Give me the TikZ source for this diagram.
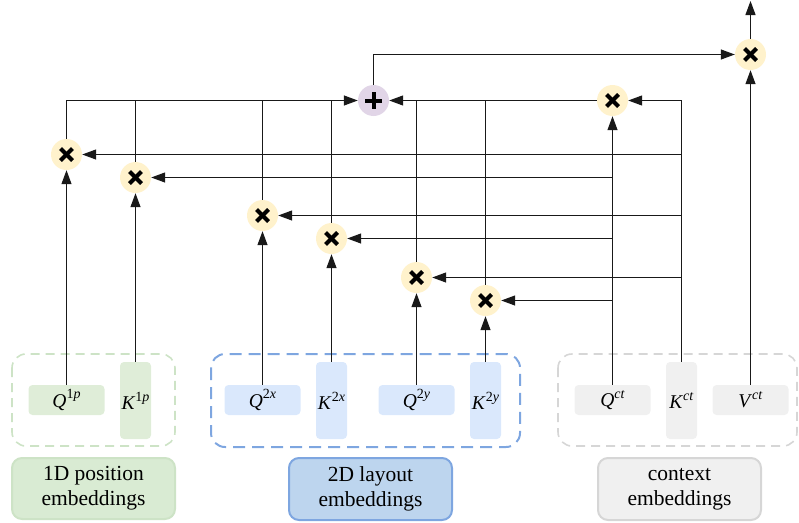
\documentclass[tikz,border=0pt]{standalone}
\usepackage{fontspec}
\setmainfont{Liberation Serif}
\usetikzlibrary{arrows.meta}
\definecolor{grnfill}{HTML}{DFEDD8}
\definecolor{grnlab}{HTML}{D9EBD3}
\definecolor{grnline}{HTML}{CDE3C6}
\definecolor{bluefill}{HTML}{DAE8FC}
\definecolor{bluelab}{HTML}{BDD5EE}
\definecolor{blueline}{HTML}{7EA6E0}
\definecolor{grayfill}{HTML}{F0F0F0}
\definecolor{grayline}{HTML}{D6D6D6}
\definecolor{mulfill}{HTML}{FFF2CC}
\definecolor{addfill}{HTML}{E1D5E7}
\newcommand{\emblab}[2]{\fontsize{19.5}{22}\selectfont\textit{#1}\raisebox{0.42em}{\fontsize{14}{15}\selectfont #2}}
\tikzset{
  wire/.style={line width=1.2pt, black!90},
  arr/.style={wire, -{Triangle[length=14pt,width=10pt]}},
  mul/.style={circle, fill=mulfill, minimum size=31pt, inner sep=0pt},
  add/.style={circle, fill=addfill, minimum size=31pt, inner sep=0pt},
  xmark/.style={line width=4pt, black},
  emb/.style={rectangle, rounded corners=4pt, inner sep=0pt},
  hbox/.style={emb, minimum width=76pt, minimum height=30pt},
  vbox/.style={emb, minimum width=31pt, minimum height=77pt},
  grp/.style={rounded corners=14pt, dash pattern=on 9pt off 6pt, line width=1.6pt},
  lab/.style={rectangle, rounded corners=10pt, line width=2pt, align=center,
    font=\fontsize{21.5}{25}\selectfont, inner sep=0pt},
}
\begin{document}
\begin{tikzpicture}[x=1pt,y=-1pt]
\useasboundingbox (0,0) rectangle (799,522);
% groups
\draw[grp, draw=grnline] (12,354) rectangle (175,446);
\draw[grp, draw=blueline, line width=2pt, dash pattern=on 12pt off 7pt] (211,354) rectangle (520,447);
\draw[grp, draw=grayline] (558,354) rectangle (797,446);
% embeddings
\node[hbox, fill=grnfill] (Q1p) at (66.5,400) {\emblab{Q}{1\textit{p}}};
\node[vbox, fill=grnfill] (K1p) at (135.5,400.5) {\emblab{K}{1\textit{p}}};
\node[hbox, fill=bluefill] (Q2x) at (262.5,400) {\emblab{Q}{2\textit{x}}};
\node[vbox, fill=bluefill] (K2x) at (331.5,400.5) {\emblab{K}{2\textit{x}}};
\node[hbox, fill=bluefill] (Q2y) at (416.5,400) {\emblab{Q}{2\textit{y}}};
\node[vbox, fill=bluefill] (K2y) at (485.5,400.5) {\emblab{K}{2\textit{y}}};
\node[hbox, fill=grayfill] (Qct) at (612.5,400) {\emblab{Q}{\textit{ct}}};
\node[vbox, fill=grayfill] (Kct) at (681.5,400.5) {\emblab{K}{\textit{ct}}};
\node[hbox, fill=grayfill] (Vct) at (750.5,400) {\emblab{V}{\textit{ct}}};
% labels
\node[lab, fill=grnlab, draw=grnline, minimum width=163pt, minimum height=61pt] (L1) at (93.5,488.5) {1D position\\embeddings};
\node[lab, fill=bluelab, draw=blueline, minimum width=163pt, minimum height=62pt] (L2) at (370.5,489) {2D layout\\embeddings};
\node[lab, fill=grayfill, draw=grayline, minimum width=163pt, minimum height=62pt] (L3) at (679.5,489) {context\\embeddings};
% operators
\node[mul] (M1) at (66.5,154.5) {};
\node[mul] (M2) at (135.5,177.5) {};
\node[mul] (M3) at (262.5,215.5) {};
\node[mul] (M4) at (331.5,238.5) {};
\node[mul] (M5) at (416.5,277.5) {};
\node[mul] (M6) at (485.5,300.5) {};
\node[mul] (Mct) at (612.5,100.5) {};
\node[mul] (Mout) at (750.5,54.5) {};
\node[add] (P) at (373.5,100.5) {};
\coordinate (out) at (750.5,1);
\foreach \n in {M1,M2,M3,M4,M5,M6,Mct,Mout}{
  \draw[xmark] ([shift={(-6,-6)}]\n.center) -- ([shift={(6,6)}]\n.center);
  \draw[xmark] ([shift={(-6,6)}]\n.center) -- ([shift={(6,-6)}]\n.center);
}
\draw[xmark] ([shift={(-8.5,0)}]P.center) -- ([shift={(8.5,0)}]P.center);
\draw[xmark] ([shift={(0,-8.5)}]P.center) -- ([shift={(0,8.5)}]P.center);
% inputs up
\draw[arr] (Q1p.north) -- (M1);
\draw[arr] (K1p.north) -- (M2);
\draw[arr] (Q2x.north) -- (M3);
\draw[arr] (K2x.north) -- (M4);
\draw[arr] (Q2y.north) -- (M5);
\draw[arr] (K2y.north) -- (M6);
\draw[arr] (Qct.north) -- (Mct);
\draw[arr] (Vct.north) -- (Mout);
% context key/query feeds
\draw[arr] (Kct.north) -- (Kct.north |- Mct) -- (Mct);
\draw[arr] (Kct.north |- M1) -- (M1);
\draw[arr] (Kct.north |- M3) -- (M3);
\draw[arr] (Kct.north |- M5) -- (M5);
\draw[arr] (Qct.north |- M2) -- (M2);
\draw[arr] (Qct.north |- M4) -- (M4);
\draw[arr] (Qct.north |- M6) -- (M6);
% products to sum
\draw[arr] (M1) |- (P);
\draw[wire] (M2) -- (M2 |- P);
\draw[wire] (M3) -- (M3 |- P);
\draw[wire] (M4) -- (M4 |- P);
\draw[arr] (Mct) -- (P);
\draw[wire] (M5) -- (M5 |- P);
\draw[wire] (M6) -- (M6 |- P);
\draw[arr] (P) |- (Mout);
\draw[arr] (Mout) -- (out);
\end{tikzpicture}
\end{document}
